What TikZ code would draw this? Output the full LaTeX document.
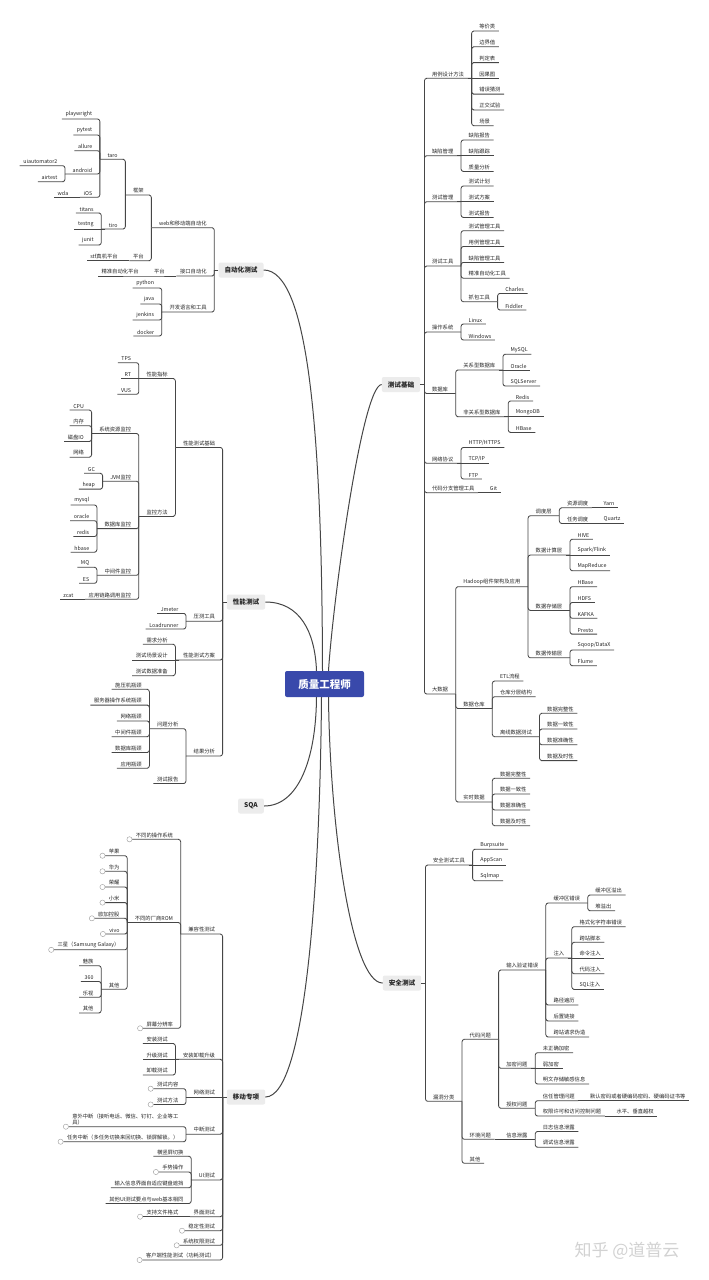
\documentclass[tikz,border=0pt]{standalone}
\usepackage{fontspec}
\setmainfont{Noto Sans CJK SC}
\definecolor{rootblue}{RGB}{57,73,171}
\definecolor{topicgray}{RGB}{236,236,236}
\definecolor{linegray}{RGB}{70,70,70}
\newcommand{\leaffont}{\fontsize{5.3}{6.4}\selectfont}
\newcommand{\topicfont}{\fontsize{6.6}{8}\selectfont\bfseries}
\tikzset{
    root/.style={rectangle, rounded corners=2pt, fill=rootblue, text=white, font=\fontsize{10.5}{12}\selectfont\bfseries, minimum width=79pt, minimum height=26pt},
    topic/.style={rectangle, rounded corners=2pt, fill=topicgray, text=black!85, font=\topicfont, inner xsep=6pt, minimum height=15pt},
    lf/.style={anchor=south east, xshift=-8pt, inner xsep=3.5pt, inner ysep=1.6pt, font=\leaffont, text=black!85},
    rt/.style={anchor=south west, xshift=8pt, inner xsep=3.5pt, inner ysep=1.6pt, font=\leaffont, text=black!85},
    br/.style={draw=linegray, line width=0.8pt, rounded corners=2.5pt},
    main/.style={draw=linegray, line width=1pt},
    mk/.style={draw=gray!80, line width=0.4pt, fill=white}
}

\begin{document}
\begin{tikzpicture}[x=1pt, y=-1pt]
    \useasboundingbox (0,0) rectangle (709,1280);
    \fill[white] (0,0) rectangle (709,1280);

    % Centro e rami principali
    \node[root] (root) at (324.5,684) {质量工程师};
    \node[topic] (auto) at (241,270) {自动化测试};
    \node[topic] (base) at (401,384.5) {测试基础};
    \node[topic] (perf) at (246,602) {性能测试};
    \node[topic] (sqa) at (251,806) {SQA};
    \node[topic] (mob) at (246,1097) {移动专项};
    \node[topic] (sec) at (402,983) {安全测试};

    \draw[main] (auto.east) .. controls (308,270) and (322,430) .. ([xshift=-2pt]root.north);
    \draw[main] (base.west) .. controls (362,386) and (333,600) .. ([xshift=4pt]root.north);
    \draw[main] (perf.east) .. controls (300,602) and (315,632) .. ([xshift=-8pt]root.north);
    \draw[main] (sqa.east) .. controls (298,806) and (316,760) .. ([xshift=-8pt]root.south);
    \draw[main] (mob.east) .. controls (306,1097) and (320,880) .. ([xshift=-3pt]root.south);
    \draw[main] (sec.west) .. controls (352,983) and (330,830) .. ([xshift=4pt]root.south);

    % 自动化测试
    \node[lf] (webm) at (auto.west |- 0,227.7) {web和移动端自动化};
    \node[lf] (api) at (auto.west |- 0,276) {接口自动化};
    \node[lf] (lang) at (auto.west |- 0,312) {开发语言和工具};
    \node[lf] (frame) at (webm.south west |- 0,195) {框架};
    \node[lf] (plat) at (webm.south west |- 0,260.7) {平台};
    \node[lf] (taro) at (frame.south west |- 0,159.3) {taro};
    \node[lf] (tiro) at (frame.south west |- 0,229) {tiro};
    \node[lf] (pw) at (taro.south west |- 0,119) {playwright};
    \node[lf] (pyt) at (taro.south west |- 0,135) {pytest};
    \node[lf] (allure) at (taro.south west |- 0,150.7) {allure};
    \node[lf] (andr) at (taro.south west |- 0,174) {android};
    \node[lf] (ios) at (taro.south west |- 0,197.3) {iOS};
    \node[lf] (uia) at (andr.south west |- 0,165.7) {uiautomator2};
    \node[lf] (airt) at (andr.south west |- 0,181.7) {airtest};
    \node[lf] (wda) at (ios.south west |- 0,197.3) {wda};
    \node[lf] (titans) at (tiro.south west |- 0,213) {titans};
    \node[lf] (testng) at (tiro.south west |- 0,229) {testng};
    \node[lf] (junit) at (tiro.south west |- 0,245) {junit};
    \node[lf] (stf) at (plat.south west |- 0,260.7) {stf真机平台};
    \node[lf] (api2) at (api.south west |- 0,276) {平台};
    \node[lf] (jzpt) at (api2.south west |- 0,276) {精准自动化平台};
    \node[lf] (python) at (lang.south west |- 0,288) {python};
    \node[lf] (java) at (lang.south west |- 0,304) {java};
    \node[lf] (jenkins) at (lang.south west |- 0,320) {jenkins};
    \node[lf] (docker) at (lang.south west |- 0,336) {docker};

    \draw[br] (auto.west) -- ++(-4,0);
    \draw[br] ([xshift=-4pt]auto.west) |- (webm.south east) -- (webm.south west) -- ++(-4,0);
    \draw[br] ([xshift=-4pt]auto.west) |- (api.south east) -- (api.south west);
    \draw[br] ([xshift=-4pt]auto.west) |- (lang.south east) -- (lang.south west) -- ++(-4,0);
    \draw[br] ([xshift=-4pt]webm.south west) |- (frame.south east) -- (frame.south west) -- ++(-4,0);
    \draw[br] ([xshift=-4pt]webm.south west) |- (plat.south east) -- (plat.south west);
    \draw[br] ([xshift=-4pt]frame.south west) |- (taro.south east) -- (taro.south west) -- ++(-4,0);
    \draw[br] ([xshift=-4pt]frame.south west) |- (tiro.south east) -- (tiro.south west) -- ++(-4,0);
    \draw[br] ([xshift=-4pt]taro.south west) |- (pw.south east) -- (pw.south west);
    \draw[br] ([xshift=-4pt]taro.south west) |- (pyt.south east) -- (pyt.south west);
    \draw[br] ([xshift=-4pt]taro.south west) |- (allure.south east) -- (allure.south west);
    \draw[br] ([xshift=-4pt]taro.south west) |- (andr.south east) -- (andr.south west) -- ++(-4,0);
    \draw[br] ([xshift=-4pt]taro.south west) |- (ios.south east) -- (ios.south west);
    \draw[br] ([xshift=-4pt]andr.south west) |- (uia.south east) -- (uia.south west);
    \draw[br] ([xshift=-4pt]andr.south west) |- (airt.south east) -- (airt.south west);
    \draw[br] (ios.south west) -- (wda.south west);
    \draw[br] ([xshift=-4pt]tiro.south west) |- (titans.south east) -- (titans.south west);
    \draw[br] (tiro.south west) -- (testng.south west);
    \draw[br] ([xshift=-4pt]tiro.south west) |- (junit.south east) -- (junit.south west);
    \draw[br] (plat.south west) -- (stf.south west);
    \draw[br] (api.south west) -- (api2.south west) -- (jzpt.south west);
    \draw[br] ([xshift=-4pt]lang.south west) |- (python.south east) -- (python.south west);
    \draw[br] ([xshift=-4pt]lang.south west) |- (java.south east) -- (java.south west);
    \draw[br] ([xshift=-4pt]lang.south west) |- (jenkins.south east) -- (jenkins.south west);
    \draw[br] ([xshift=-4pt]lang.south west) |- (docker.south east) -- (docker.south west);

    % 测试基础
    \node[rt] (case) at (base.east |- 0,78.3) {用例设计方法};
    \node[rt] (bug) at (base.east |- 0,155.7) {缺陷管理};
    \node[rt] (tm) at (base.east |- 0,201.7) {测试管理};
    \node[rt] (tool) at (base.east |- 0,266) {测试工具};
    \node[rt] (os) at (base.east |- 0,332) {操作系统};
    \node[rt] (db) at (base.east |- 0,393.5) {数据库};
    \node[rt] (net) at (base.east |- 0,463.3) {网络协议};
    \node[rt] (vcs) at (base.east |- 0,492.7) {代码分支管理工具};
    \node[rt] (bigd) at (base.east |- 0,694) {大数据};
    \node[rt] (dj) at (case.south east |- 0,31) {等价类};
    \node[rt] (bj) at (case.south east |- 0,46.8) {边界值};
    \node[rt] (pd) at (case.south east |- 0,62.6) {判定表};
    \node[rt] (yg) at (case.south east |- 0,78.3) {因果图};
    \node[rt] (cw) at (case.south east |- 0,94.1) {错误猜测};
    \node[rt] (zj) at (case.south east |- 0,109.9) {正交试验};
    \node[rt] (cj) at (case.south east |- 0,125.7) {场景};
    \node[rt] (bg1) at (bug.south east |- 0,140) {缺陷报告};
    \node[rt] (bg2) at (bug.south east |- 0,155.7) {缺陷跟踪};
    \node[rt] (bg3) at (bug.south east |- 0,171.4) {质量分析};
    \node[rt] (tm1) at (tm.south east |- 0,186) {测试计划};
    \node[rt] (tm2) at (tm.south east |- 0,201.7) {测试方案};
    \node[rt] (tm3) at (tm.south east |- 0,217.4) {测试报告};
    \node[rt] (tl1) at (tool.south east |- 0,230.7) {测试管理工具};
    \node[rt] (tl2) at (tool.south east |- 0,246.5) {用例管理工具};
    \node[rt] (tl3) at (tool.south east |- 0,262.4) {缺陷管理工具};
    \node[rt] (tl4) at (tool.south east |- 0,278.2) {精准自动化工具};
    \node[rt] (cap) at (tool.south east |- 0,301.7) {抓包工具};
    \node[rt] (charles) at (cap.south east |- 0,293.4) {Charles};
    \node[rt] (fiddler) at (cap.south east |- 0,310) {Fiddler};
    \node[rt] (linux) at (os.south east |- 0,324) {Linux};
    \node[rt] (win) at (os.south east |- 0,340) {Windows};
    \node[rt] (rdb) at (db.south east |- 0,370) {关系型数据库};
    \node[rt] (nosql) at (db.south east |- 0,416.7) {非关系型数据库};
    \node[rt] (mysql) at (rdb.south east |- 0,354.3) {MySQL};
    \node[rt] (oracle) at (rdb.south east |- 0,370) {Oracle};
    \node[rt] (sqls) at (rdb.south east |- 0,386) {SQLServer};
    \node[rt] (redis) at (nosql.south east |- 0,401) {Redis};
    \node[rt] (mongo) at (nosql.south east |- 0,416.7) {MongoDB};
    \node[rt] (hbase) at (nosql.south east |- 0,432.4) {HBase};
    \node[rt] (http) at (net.south east |- 0,447.5) {HTTP/HTTPS};
    \node[rt] (tcp) at (net.south east |- 0,463.3) {TCP/IP};
    \node[rt] (ftp) at (net.south east |- 0,479) {FTP};
    \node[rt] (git) at (vcs.south east |- 0,492.7) {Git};

    \draw[br] (base.east) -- ++(4,0);
    \draw[br] ([xshift=4pt]base.east) |- (case.south west) -- (case.south east) -- ++(4,0);
    \draw[br] ([xshift=4pt]base.east) |- (bug.south west) -- (bug.south east) -- ++(4,0);
    \draw[br] ([xshift=4pt]base.east) |- (tm.south west) -- (tm.south east) -- ++(4,0);
    \draw[br] ([xshift=4pt]base.east) |- (tool.south west) -- (tool.south east) -- ++(4,0);
    \draw[br] ([xshift=4pt]base.east) |- (os.south west) -- (os.south east) -- ++(4,0);
    \draw[br] ([xshift=4pt]base.east) |- (db.south west) -- (db.south east) -- ++(4,0);
    \draw[br] ([xshift=4pt]base.east) |- (net.south west) -- (net.south east) -- ++(4,0);
    \draw[br] ([xshift=4pt]base.east) |- (vcs.south west) -- (vcs.south east);
    \draw[br] ([xshift=4pt]base.east) |- (bigd.south west) -- (bigd.south east) -- ++(4,0);
    \draw[br] ([xshift=4pt]case.south east) |- (dj.south west) -- (dj.south east);
    \draw[br] ([xshift=4pt]case.south east) |- (bj.south west) -- (bj.south east);
    \draw[br] ([xshift=4pt]case.south east) |- (pd.south west) -- (pd.south east);
    \draw[br] (case.south east) -- (yg.south east);
    \draw[br] ([xshift=4pt]case.south east) |- (cw.south west) -- (cw.south east);
    \draw[br] ([xshift=4pt]case.south east) |- (zj.south west) -- (zj.south east);
    \draw[br] ([xshift=4pt]case.south east) |- (cj.south west) -- (cj.south east);
    \draw[br] ([xshift=4pt]bug.south east) |- (bg1.south west) -- (bg1.south east);
    \draw[br] (bug.south east) -- (bg2.south east);
    \draw[br] ([xshift=4pt]bug.south east) |- (bg3.south west) -- (bg3.south east);
    \draw[br] ([xshift=4pt]tm.south east) |- (tm1.south west) -- (tm1.south east);
    \draw[br] (tm.south east) -- (tm2.south east);
    \draw[br] ([xshift=4pt]tm.south east) |- (tm3.south west) -- (tm3.south east);
    \draw[br] ([xshift=4pt]tool.south east) |- (tl1.south west) -- (tl1.south east);
    \draw[br] ([xshift=4pt]tool.south east) |- (tl2.south west) -- (tl2.south east);
    \draw[br] ([xshift=4pt]tool.south east) |- (tl3.south west) -- (tl3.south east);
    \draw[br] ([xshift=4pt]tool.south east) |- (tl4.south west) -- (tl4.south east);
    \draw[br] ([xshift=4pt]tool.south east) |- (cap.south west) -- (cap.south east) -- ++(4,0);
    \draw[br] ([xshift=4pt]cap.south east) |- (charles.south west) -- (charles.south east);
    \draw[br] ([xshift=4pt]cap.south east) |- (fiddler.south west) -- (fiddler.south east);
    \draw[br] ([xshift=4pt]os.south east) |- (linux.south west) -- (linux.south east);
    \draw[br] ([xshift=4pt]os.south east) |- (win.south west) -- (win.south east);
    \draw[br] ([xshift=4pt]db.south east) |- (rdb.south west) -- (rdb.south east) -- ++(4,0);
    \draw[br] ([xshift=4pt]db.south east) |- (nosql.south west) -- (nosql.south east) -- ++(4,0);
    \draw[br] ([xshift=4pt]rdb.south east) |- (mysql.south west) -- (mysql.south east);
    \draw[br] (rdb.south east) -- (oracle.south east);
    \draw[br] ([xshift=4pt]rdb.south east) |- (sqls.south west) -- (sqls.south east);
    \draw[br] ([xshift=4pt]nosql.south east) |- (redis.south west) -- (redis.south east);
    \draw[br] (nosql.south east) -- (mongo.south east);
    \draw[br] ([xshift=4pt]nosql.south east) |- (hbase.south west) -- (hbase.south east);
    \draw[br] ([xshift=4pt]net.south east) |- (http.south west) -- (http.south east);
    \draw[br] (net.south east) -- (tcp.south east);
    \draw[br] ([xshift=4pt]net.south east) |- (ftp.south west) -- (ftp.south east);
    \draw[br] (vcs.south east) -- (git.south east);

    % 大数据
    \node[rt] (hadoop) at (bigd.south east |- 0,586.7) {Hadoop组件架构及应用};
    \node[rt] (dw) at (bigd.south east |- 0,708.5) {数据仓库};
    \node[rt] (rtd) at (bigd.south east |- 0,802) {实时数据};
    \node[rt] (sched) at (hadoop.south east |- 0,515.7) {调度层};
    \node[rt] (calc) at (hadoop.south east |- 0,555) {数据计算层};
    \node[rt] (store) at (hadoop.south east |- 0,610.4) {数据存储层};
    \node[rt] (trans) at (hadoop.south east |- 0,657.8) {数据传输层};
    \node[rt] (zy) at (sched.south east |- 0,507.8) {资源调度};
    \node[rt] (rw) at (sched.south east |- 0,523.5) {任务调度};
    \node[rt] (yarn) at (zy.south east |- 0,507.8) {Yarn};
    \node[rt] (quartz) at (rw.south east |- 0,523.5) {Quartz};
    \node[rt] (hive) at (calc.south east |- 0,539.3) {HIVE};
    \node[rt] (spark) at (calc.south east |- 0,555) {Spark/Flink};
    \node[rt] (mr) at (calc.south east |- 0,570.7) {MapReduce};
    \node[rt] (hb) at (store.south east |- 0,586.7) {HBase};
    \node[rt] (hdfs) at (store.south east |- 0,602.5) {HDFS};
    \node[rt] (kafka) at (store.south east |- 0,618.3) {KAFKA};
    \node[rt] (presto) at (store.south east |- 0,634.1) {Presto};
    \node[rt] (sqoop) at (trans.south east |- 0,650) {Sqoop/DataX};
    \node[rt] (flume) at (trans.south east |- 0,665.7) {Flume};
    \node[rt] (etl) at (dw.south east |- 0,681) {ETL流程};
    \node[rt] (cc) at (dw.south east |- 0,696.7) {仓库分层结构};
    \node[rt] (off) at (dw.south east |- 0,736.7) {离线数据测试};
    \node[rt] (of1) at (off.south east |- 0,713.3) {数据完整性};
    \node[rt] (of2) at (off.south east |- 0,729) {数据一致性};
    \node[rt] (of3) at (off.south east |- 0,744.8) {数据准确性};
    \node[rt] (of4) at (off.south east |- 0,760.6) {数据及时性};
    \node[rt] (rd1) at (rtd.south east |- 0,778.3) {数据完整性};
    \node[rt] (rd2) at (rtd.south east |- 0,794) {数据一致性};
    \node[rt] (rd3) at (rtd.south east |- 0,810) {数据准确性};
    \node[rt] (rd4) at (rtd.south east |- 0,825.7) {数据及时性};

    \draw[br] ([xshift=4pt]bigd.south east) |- (hadoop.south west) -- (hadoop.south east) -- ++(4,0);
    \draw[br] ([xshift=4pt]bigd.south east) |- (dw.south west) -- (dw.south east) -- ++(4,0);
    \draw[br] ([xshift=4pt]bigd.south east) |- (rtd.south west) -- (rtd.south east) -- ++(4,0);
    \draw[br] ([xshift=4pt]hadoop.south east) |- (sched.south west) -- (sched.south east) -- ++(4,0);
    \draw[br] ([xshift=4pt]hadoop.south east) |- (calc.south west) -- (calc.south east) -- ++(4,0);
    \draw[br] ([xshift=4pt]hadoop.south east) |- (store.south west) -- (store.south east) -- ++(4,0);
    \draw[br] ([xshift=4pt]hadoop.south east) |- (trans.south west) -- (trans.south east) -- ++(4,0);
    \draw[br] ([xshift=4pt]sched.south east) |- (zy.south west) -- (zy.south east);
    \draw[br] ([xshift=4pt]sched.south east) |- (rw.south west) -- (rw.south east);
    \draw[br] (zy.south east) -- (yarn.south east);
    \draw[br] (rw.south east) -- (quartz.south east);
    \draw[br] ([xshift=4pt]calc.south east) |- (hive.south west) -- (hive.south east);
    \draw[br] (calc.south east) -- (spark.south east);
    \draw[br] ([xshift=4pt]calc.south east) |- (mr.south west) -- (mr.south east);
    \draw[br] ([xshift=4pt]store.south east) |- (hb.south west) -- (hb.south east);
    \draw[br] ([xshift=4pt]store.south east) |- (hdfs.south west) -- (hdfs.south east);
    \draw[br] ([xshift=4pt]store.south east) |- (kafka.south west) -- (kafka.south east);
    \draw[br] ([xshift=4pt]store.south east) |- (presto.south west) -- (presto.south east);
    \draw[br] ([xshift=4pt]trans.south east) |- (sqoop.south west) -- (sqoop.south east);
    \draw[br] ([xshift=4pt]trans.south east) |- (flume.south west) -- (flume.south east);
    \draw[br] ([xshift=4pt]dw.south east) |- (etl.south west) -- (etl.south east);
    \draw[br] ([xshift=4pt]dw.south east) |- (cc.south west) -- (cc.south east);
    \draw[br] ([xshift=4pt]dw.south east) |- (off.south west) -- (off.south east) -- ++(4,0);
    \draw[br] ([xshift=4pt]off.south east) |- (of1.south west) -- (of1.south east);
    \draw[br] ([xshift=4pt]off.south east) |- (of2.south west) -- (of2.south east);
    \draw[br] ([xshift=4pt]off.south east) |- (of3.south west) -- (of3.south east);
    \draw[br] ([xshift=4pt]off.south east) |- (of4.south west) -- (of4.south east);
    \draw[br] ([xshift=4pt]rtd.south east) |- (rd1.south west) -- (rd1.south east);
    \draw[br] ([xshift=4pt]rtd.south east) |- (rd2.south west) -- (rd2.south east);
    \draw[br] ([xshift=4pt]rtd.south east) |- (rd3.south west) -- (rd3.south east);
    \draw[br] ([xshift=4pt]rtd.south east) |- (rd4.south west) -- (rd4.south east);

    % 性能测试
    \node[lf] (pbase) at (perf.west |- 0,447.4) {性能测试基础};
    \node[lf] (ptool) at (perf.west |- 0,621.2) {压测工具};
    \node[lf] (pplan) at (perf.west |- 0,660) {性能测试方案};
    \node[lf] (pres) at (perf.west |- 0,756) {结果分析};
    \node[lf] (metric) at (pbase.south west |- 0,378.5) {性能指标};
    \node[lf] (monitor) at (pbase.south west |- 0,516.4) {监控方法};
    \node[lf] (tps) at (metric.south west |- 0,362.7) {TPS};
    \node[lf] (rtm) at (metric.south west |- 0,378.5) {RT};
    \node[lf] (vus) at (metric.south west |- 0,394.3) {VUS};
    \node[lf] (sysmon) at (monitor.south west |- 0,433.5) {系统资源监控};
    \node[lf] (jvm) at (monitor.south west |- 0,481.2) {JVM监控};
    \node[lf] (dbmon) at (monitor.south west |- 0,528.6) {数据库监控};
    \node[lf] (midw) at (monitor.south west |- 0,575.3) {中间件监控};
    \node[lf] (apm) at (monitor.south west |- 0,599.3) {应用链路调用监控};
    \node[lf] (cpu) at (sysmon.south west |- 0,410) {CPU};
    \node[lf] (mem) at (sysmon.south west |- 0,425.7) {内存};
    \node[lf] (disk) at (sysmon.south west |- 0,441.5) {磁盘IO};
    \node[lf] (nw) at (sysmon.south west |- 0,457.2) {网络};
    \node[lf] (gc) at (jvm.south west |- 0,473.3) {GC};
    \node[lf] (heap) at (jvm.south west |- 0,489.1) {heap};
    \node[lf] (mysqlm) at (dbmon.south west |- 0,505) {mysql};
    \node[lf] (oraclem) at (dbmon.south west |- 0,520.7) {oracle};
    \node[lf] (redism) at (dbmon.south west |- 0,536.5) {redis};
    \node[lf] (hbasem) at (dbmon.south west |- 0,552.2) {hbase};
    \node[lf] (mq) at (midw.south west |- 0,567.3) {MQ};
    \node[lf] (es) at (midw.south west |- 0,583.3) {ES};
    \node[lf] (zcat) at (apm.south west |- 0,599.3) {zcat};
    \node[lf] (jmeter) at (ptool.south west |- 0,613.4) {Jmeter};
    \node[lf] (lr) at (ptool.south west |- 0,629) {Loadrunner};
    \node[lf] (xq) at (pplan.south west |- 0,644.3) {需求分析};
    \node[lf] (cjsj) at (pplan.south west |- 0,660) {测试场景设计};
    \node[lf] (sjzb) at (pplan.south west |- 0,675.7) {测试数据准备};
    \node[lf] (issue) at (pres.south west |- 0,728.7) {问题分析};
    \node[lf] (rpt) at (pres.south west |- 0,783.5) {测试报告};
    \node[lf] (is1) at (issue.south west |- 0,689.3) {施压机瓶颈};
    \node[lf] (is2) at (issue.south west |- 0,705.1) {服务器操作系统瓶颈};
    \node[lf] (is3) at (issue.south west |- 0,720.9) {网络瓶颈};
    \node[lf] (is4) at (issue.south west |- 0,736.7) {中间件瓶颈};
    \node[lf] (is5) at (issue.south west |- 0,752.5) {数据库瓶颈};
    \node[lf] (is6) at (issue.south west |- 0,768.3) {应用瓶颈};

    \draw[br] (perf.west) -- ++(-4,0);
    \draw[br] ([xshift=-4pt]perf.west) |- (pbase.south east) -- (pbase.south west) -- ++(-4,0);
    \draw[br] ([xshift=-4pt]perf.west) |- (ptool.south east) -- (ptool.south west) -- ++(-4,0);
    \draw[br] ([xshift=-4pt]perf.west) |- (pplan.south east) -- (pplan.south west) -- ++(-4,0);
    \draw[br] ([xshift=-4pt]perf.west) |- (pres.south east) -- (pres.south west) -- ++(-4,0);
    \draw[br] ([xshift=-4pt]pbase.south west) |- (metric.south east) -- (metric.south west) -- ++(-4,0);
    \draw[br] ([xshift=-4pt]pbase.south west) |- (monitor.south east) -- (monitor.south west) -- ++(-4,0);
    \draw[br] ([xshift=-4pt]metric.south west) |- (tps.south east) -- (tps.south west);
    \draw[br] (metric.south west) -- (rtm.south west);
    \draw[br] ([xshift=-4pt]metric.south west) |- (vus.south east) -- (vus.south west);
    \draw[br] ([xshift=-4pt]monitor.south west) |- (sysmon.south east) -- (sysmon.south west) -- ++(-4,0);
    \draw[br] ([xshift=-4pt]monitor.south west) |- (jvm.south east) -- (jvm.south west) -- ++(-4,0);
    \draw[br] ([xshift=-4pt]monitor.south west) |- (dbmon.south east) -- (dbmon.south west) -- ++(-4,0);
    \draw[br] ([xshift=-4pt]monitor.south west) |- (midw.south east) -- (midw.south west) -- ++(-4,0);
    \draw[br] ([xshift=-4pt]monitor.south west) |- (apm.south east) -- (apm.south west);
    \draw[br] ([xshift=-4pt]sysmon.south west) |- (cpu.south east) -- (cpu.south west);
    \draw[br] ([xshift=-4pt]sysmon.south west) |- (mem.south east) -- (mem.south west);
    \draw[br] ([xshift=-4pt]sysmon.south west) |- (disk.south east) -- (disk.south west);
    \draw[br] ([xshift=-4pt]sysmon.south west) |- (nw.south east) -- (nw.south west);
    \draw[br] ([xshift=-4pt]jvm.south west) |- (gc.south east) -- (gc.south west);
    \draw[br] ([xshift=-4pt]jvm.south west) |- (heap.south east) -- (heap.south west);
    \draw[br] ([xshift=-4pt]dbmon.south west) |- (mysqlm.south east) -- (mysqlm.south west);
    \draw[br] ([xshift=-4pt]dbmon.south west) |- (oraclem.south east) -- (oraclem.south west);
    \draw[br] ([xshift=-4pt]dbmon.south west) |- (redism.south east) -- (redism.south west);
    \draw[br] ([xshift=-4pt]dbmon.south west) |- (hbasem.south east) -- (hbasem.south west);
    \draw[br] ([xshift=-4pt]midw.south west) |- (mq.south east) -- (mq.south west);
    \draw[br] ([xshift=-4pt]midw.south west) |- (es.south east) -- (es.south west);
    \draw[br] (apm.south west) -- (zcat.south west);
    \draw[br] ([xshift=-4pt]ptool.south west) |- (jmeter.south east) -- (jmeter.south west);
    \draw[br] ([xshift=-4pt]ptool.south west) |- (lr.south east) -- (lr.south west);
    \draw[br] ([xshift=-4pt]pplan.south west) |- (xq.south east) -- (xq.south west);
    \draw[br] (pplan.south west) -- (cjsj.south west);
    \draw[br] ([xshift=-4pt]pplan.south west) |- (sjzb.south east) -- (sjzb.south west);
    \draw[br] ([xshift=-4pt]pres.south west) |- (issue.south east) -- (issue.south west) -- ++(-4,0);
    \draw[br] ([xshift=-4pt]pres.south west) |- (rpt.south east) -- (rpt.south west);
    \draw[br] ([xshift=-4pt]issue.south west) |- (is1.south east) -- (is1.south west);
    \draw[br] ([xshift=-4pt]issue.south west) |- (is2.south east) -- (is2.south west);
    \draw[br] ([xshift=-4pt]issue.south west) |- (is3.south east) -- (is3.south west);
    \draw[br] ([xshift=-4pt]issue.south west) |- (is4.south east) -- (is4.south west);
    \draw[br] ([xshift=-4pt]issue.south west) |- (is5.south east) -- (is5.south west);
    \draw[br] ([xshift=-4pt]issue.south west) |- (is6.south east) -- (is6.south west);

    % 安全测试
    \node[rt] (sectool) at (sec.east |- 0,865) {安全测试工具};
    \node[rt] (vuln) at (sec.east |- 0,1101.3) {漏洞分类};
    \node[rt] (burp) at (sectool.south east |- 0,849.3) {Burpsuite};
    \node[rt] (appscan) at (sectool.south east |- 0,865) {AppScan};
    \node[rt] (sqlmap) at (sectool.south east |- 0,880.7) {Sqlmap};
    \node[rt] (code) at (vuln.south east |- 0,1039.3) {代码问题};
    \node[rt] (env) at (vuln.south east |- 0,1139.3) {环境问题};
    \node[rt] (othr) at (vuln.south east |- 0,1163.3) {其他};
    \node[rt] (input) at (code.south east |- 0,970) {输入验证错误};
    \node[rt] (crypto) at (code.south east |- 0,1068.3) {加密问题};
    \node[rt] (auth) at (code.south east |- 0,1108.3) {授权问题};
    \node[rt] (buf) at (input.south east |- 0,903) {缓冲区错误};
    \node[rt] (inj) at (input.south east |- 0,958) {注入};
    \node[rt] (path) at (input.south east |- 0,1005) {路径遍历};
    \node[rt] (link) at (input.south east |- 0,1021) {后置链接};
    \node[rt] (csrf) at (input.south east |- 0,1037) {跨站请求伪造};
    \node[rt] (bo1) at (buf.south east |- 0,895) {缓冲区溢出};
    \node[rt] (bo2) at (buf.south east |- 0,910.7) {堆溢出};
    \node[rt] (in1) at (inj.south east |- 0,926.7) {格式化字符串错误};
    \node[rt] (in2) at (inj.south east |- 0,942.3) {跨站脚本};
    \node[rt] (in3) at (inj.south east |- 0,958) {命令注入};
    \node[rt] (in4) at (inj.south east |- 0,973.7) {代码注入};
    \node[rt] (in5) at (inj.south east |- 0,989.4) {SQL注入};
    \node[rt] (cr1) at (crypto.south east |- 0,1052.7) {未正确加密};
    \node[rt] (cr2) at (crypto.south east |- 0,1068.3) {弱加密};
    \node[rt] (cr3) at (crypto.south east |- 0,1084) {明文存储敏感信息};
    \node[rt] (trust) at (auth.south east |- 0,1100.7) {信任管理问题};
    \node[rt] (perm) at (auth.south east |- 0,1116) {权限许可和访问控制问题};
    \node[rt] (dft) at (trust.south east |- 0,1100.7) {默认密码或者硬编码密码、硬编码证书等};
    \node[rt] (vert) at (perm.south east |- 0,1116) {水平、垂直越权};
    \node[rt] (leak) at (env.south east |- 0,1139.3) {信息泄露};
    \node[rt] (lk1) at (leak.south east |- 0,1131.5) {日志信息泄露};
    \node[rt] (lk2) at (leak.south east |- 0,1147.2) {调试信息泄露};

    \draw[br] (sec.east) -- ++(4,0);
    \draw[br] ([xshift=4pt]sec.east) |- (sectool.south west) -- (sectool.south east) -- ++(4,0);
    \draw[br] ([xshift=4pt]sec.east) |- (vuln.south west) -- (vuln.south east) -- ++(4,0);
    \draw[br] ([xshift=4pt]sectool.south east) |- (burp.south west) -- (burp.south east);
    \draw[br] (sectool.south east) -- (appscan.south east);
    \draw[br] ([xshift=4pt]sectool.south east) |- (sqlmap.south west) -- (sqlmap.south east);
    \draw[br] ([xshift=4pt]vuln.south east) |- (code.south west) -- (code.south east) -- ++(4,0);
    \draw[br] ([xshift=4pt]vuln.south east) |- (env.south west) -- (env.south east);
    \draw[br] ([xshift=4pt]vuln.south east) |- (othr.south west) -- (othr.south east);
    \draw[br] ([xshift=4pt]code.south east) |- (input.south west) -- (input.south east) -- ++(4,0);
    \draw[br] ([xshift=4pt]code.south east) |- (crypto.south west) -- (crypto.south east) -- ++(4,0);
    \draw[br] ([xshift=4pt]code.south east) |- (auth.south west) -- (auth.south east) -- ++(4,0);
    \draw[br] ([xshift=4pt]input.south east) |- (buf.south west) -- (buf.south east) -- ++(4,0);
    \draw[br] ([xshift=4pt]input.south east) |- (inj.south west) -- (inj.south east) -- ++(4,0);
    \draw[br] ([xshift=4pt]input.south east) |- (path.south west) -- (path.south east);
    \draw[br] ([xshift=4pt]input.south east) |- (link.south west) -- (link.south east);
    \draw[br] ([xshift=4pt]input.south east) |- (csrf.south west) -- (csrf.south east);
    \draw[br] ([xshift=4pt]buf.south east) |- (bo1.south west) -- (bo1.south east);
    \draw[br] ([xshift=4pt]buf.south east) |- (bo2.south west) -- (bo2.south east);
    \draw[br] ([xshift=4pt]inj.south east) |- (in1.south west) -- (in1.south east);
    \draw[br] ([xshift=4pt]inj.south east) |- (in2.south west) -- (in2.south east);
    \draw[br] (inj.south east) -- (in3.south east);
    \draw[br] ([xshift=4pt]inj.south east) |- (in4.south west) -- (in4.south east);
    \draw[br] ([xshift=4pt]inj.south east) |- (in5.south west) -- (in5.south east);
    \draw[br] ([xshift=4pt]crypto.south east) |- (cr1.south west) -- (cr1.south east);
    \draw[br] (crypto.south east) -- (cr2.south east);
    \draw[br] ([xshift=4pt]crypto.south east) |- (cr3.south west) -- (cr3.south east);
    \draw[br] ([xshift=4pt]auth.south east) |- (trust.south west) -- (trust.south east);
    \draw[br] ([xshift=4pt]auth.south east) |- (perm.south west) -- (perm.south east);
    \draw[br] (trust.south east) -- (dft.south east);
    \draw[br] (perm.south east) -- (vert.south east);
    \draw[br] (env.south east) -- (leak.south east) -- ++(4,0);
    \draw[br] ([xshift=4pt]leak.south east) |- (lk1.south west) -- (lk1.south east);
    \draw[br] ([xshift=4pt]leak.south east) |- (lk2.south west) -- (lk2.south east);

    % 移动专项
    \node[lf] (compat) at (mob.west |- 0,934) {兼容性测试};
    \node[lf] (install) at (mob.west |- 0,1059.3) {安装卸载升级};
    \node[lf] (nettest) at (mob.west |- 0,1097) {网络测试};
    \node[lf] (intr) at (mob.west |- 0,1134.2) {中断测试};
    \node[lf] (ui) at (mob.west |- 0,1179.9) {UI测试};
    \node[lf] (iface) at (mob.west |- 0,1216.7) {界面测试};
    \node[lf] (stab) at (mob.west |- 0,1230.7) {稳定性测试};
    \node[lf] (sysperm) at (mob.west |- 0,1245.3) {系统权限测试};
    \node[lf] (client) at (mob.west |- 0,1260) {客户端性能测试（功耗测试）};
    \node[lf] (diffos) at (compat.south west |- 0,839.3) {不同的操作系统};
    \node[lf] (rom) at (compat.south west |- 0,922.5) {不同的厂商ROM};
    \node[lf] (screen) at (compat.south west |- 0,1028.3) {屏幕分辨率};
    \node[lf] (apple) at (rom.south west |- 0,855.7) {苹果};
    \node[lf] (hw) at (rom.south west |- 0,871.3) {华为};
    \node[lf] (hon) at (rom.south west |- 0,887) {荣耀};
    \node[lf] (mi) at (rom.south west |- 0,902.6) {小米};
    \node[lf] (oppo) at (rom.south west |- 0,918.3) {欧加控股};
    \node[lf] (vivo) at (rom.south west |- 0,934) {vivo};
    \node[lf] (sam) at (rom.south west |- 0,949.8) {三星（Samsung Galaxy）};
    \node[lf] (romo) at (rom.south west |- 0,989.3) {其他};
    \node[lf] (mz) at (romo.south west |- 0,965.7) {魅族};
    \node[lf] (s360) at (romo.south west |- 0,981.5) {360};
    \node[lf] (lesh) at (romo.south west |- 0,997.3) {乐视};
    \node[lf] (qt) at (romo.south west |- 0,1013) {其他};
    \node[lf] (az) at (install.south west |- 0,1043.5) {安装测试};
    \node[lf] (sj) at (install.south west |- 0,1059.3) {升级测试};
    \node[lf] (xz) at (install.south west |- 0,1075) {卸载测试};
    \node[lf] (nc) at (nettest.south west |- 0,1088.7) {测试内容};
    \node[lf] (nf) at (nettest.south west |- 0,1104.5) {测试方法};
    \node[lf, align=left] (yw) at (intr.south west |- 0,1126.7) {意外中断（接听电话、微信、钉钉、企业等工\\具）};
    \node[lf] (rw2) at (intr.south west |- 0,1141.7) {任务中断（多任务切换来回切换、锁屏解锁。）};
    \node[lf] (hs) at (ui.south west |- 0,1156.3) {横竖屏切换};
    \node[lf] (ss) at (ui.south west |- 0,1172) {手势操作};
    \node[lf] (sr) at (ui.south west |- 0,1187.7) {输入信息界面自适应键盘遮挡};
    \node[lf] (qtui) at (ui.south west |- 0,1203.5) {其他UI测试要点与web基本相同};
    \node[lf] (fmt) at (iface.south west |- 0,1216.7) {支持文件格式};

    \draw[br] (mob.west) -- ++(-4,0);
    \draw[br] ([xshift=-4pt]mob.west) |- (compat.south east) -- (compat.south west) -- ++(-4,0);
    \draw[br] ([xshift=-4pt]mob.west) |- (install.south east) -- (install.south west) -- ++(-4,0);
    \draw[br] (mob.west) -- (nettest.south west) -- ++(-4,0);
    \draw[br] ([xshift=-4pt]mob.west) |- (intr.south east) -- (intr.south west) -- ++(-4,0);
    \draw[br] ([xshift=-4pt]mob.west) |- (ui.south east) -- (ui.south west) -- ++(-4,0);
    \draw[br] ([xshift=-4pt]mob.west) |- (iface.south east) -- (iface.south west);
    \draw[br] ([xshift=-4pt]mob.west) |- (stab.south east) -- (stab.south west);
    \draw[br] ([xshift=-4pt]mob.west) |- (sysperm.south east) -- (sysperm.south west);
    \draw[br] ([xshift=-4pt]mob.west) |- (client.south east) -- (client.south west);
    \draw[br] ([xshift=-4pt]compat.south west) |- (diffos.south east) -- (diffos.south west);
    \draw[br] ([xshift=-4pt]compat.south west) |- (rom.south east) -- (rom.south west) -- ++(-4,0);
    \draw[br] ([xshift=-4pt]compat.south west) |- (screen.south east) -- (screen.south west);
    \draw[br] ([xshift=-4pt]rom.south west) |- (apple.south east) -- (apple.south west);
    \draw[br] ([xshift=-4pt]rom.south west) |- (hw.south east) -- (hw.south west);
    \draw[br] ([xshift=-4pt]rom.south west) |- (hon.south east) -- (hon.south west);
    \draw[br] ([xshift=-4pt]rom.south west) |- (mi.south east) -- (mi.south west);
    \draw[br] ([xshift=-4pt]rom.south west) |- (oppo.south east) -- (oppo.south west);
    \draw[br] ([xshift=-4pt]rom.south west) |- (vivo.south east) -- (vivo.south west);
    \draw[br] ([xshift=-4pt]rom.south west) |- (sam.south east) -- (sam.south west);
    \draw[br] ([xshift=-4pt]rom.south west) |- (romo.south east) -- (romo.south west) -- ++(-4,0);
    \draw[br] ([xshift=-4pt]romo.south west) |- (mz.south east) -- (mz.south west);
    \draw[br] ([xshift=-4pt]romo.south west) |- (s360.south east) -- (s360.south west);
    \draw[br] ([xshift=-4pt]romo.south west) |- (lesh.south east) -- (lesh.south west);
    \draw[br] ([xshift=-4pt]romo.south west) |- (qt.south east) -- (qt.south west);
    \draw[br] ([xshift=-4pt]install.south west) |- (az.south east) -- (az.south west);
    \draw[br] (install.south west) -- (sj.south west);
    \draw[br] ([xshift=-4pt]install.south west) |- (xz.south east) -- (xz.south west);
    \draw[br] ([xshift=-4pt]nettest.south west) |- (nc.south east) -- (nc.south west);
    \draw[br] ([xshift=-4pt]nettest.south west) |- (nf.south east) -- (nf.south west);
    \draw[br] ([xshift=-4pt]intr.south west) |- (yw.south east) -- (yw.south west);
    \draw[br] ([xshift=-4pt]intr.south west) |- (rw2.south east) -- (rw2.south west);
    \draw[br] ([xshift=-4pt]ui.south west) |- (hs.south east) -- (hs.south west);
    \draw[br] ([xshift=-4pt]ui.south west) |- (ss.south east) -- (ss.south west);
    \draw[br] ([xshift=-4pt]ui.south west) |- (sr.south east) -- (sr.south west);
    \draw[br] ([xshift=-4pt]ui.south west) |- (qtui.south east) -- (qtui.south west);
    \draw[br] (iface.south west) -- (fmt.south west);

    % Marcatori
    \draw[mk] ([xshift=-2.7pt]diffos.south west) circle (2.6pt);
    \draw[mk] ([xshift=-2.7pt]screen.south west) circle (2.6pt);
    \draw[mk] ([xshift=-2.7pt]apple.south west) circle (2.6pt);
    \draw[mk] ([xshift=-2.7pt]hw.south west) circle (2.6pt);
    \draw[mk] ([xshift=-2.7pt]hon.south west) circle (2.6pt);
    \draw[mk] ([xshift=-2.7pt]mi.south west) circle (2.6pt);
    \draw[mk] ([xshift=-2.7pt]oppo.south west) circle (2.6pt);
    \draw[mk] ([xshift=-2.7pt]vivo.south west) circle (2.6pt);
    \draw[mk] ([xshift=-2.7pt]sam.south west) circle (2.6pt);
    \draw[mk] ([xshift=-2.7pt]nc.south west) circle (2.6pt);
    \draw[mk] ([xshift=-2.7pt]nf.south west) circle (2.6pt);
    \draw[mk] ([xshift=-2.7pt]yw.south west) circle (2.6pt);
    \draw[mk] ([xshift=-2.7pt]rw2.south west) circle (2.6pt);
    \draw[mk] ([xshift=-2.7pt]ss.south west) circle (2.6pt);
    \draw[mk] ([xshift=-2.7pt]fmt.south west) circle (2.6pt);
    \draw[mk] ([xshift=-2.7pt]stab.south west) circle (2.6pt);
    \draw[mk] ([xshift=-2.7pt]sysperm.south west) circle (2.6pt);
    \draw[mk] ([xshift=-2.7pt]client.south west) circle (2.6pt);

    \node[font=\fontsize{17}{20}\selectfont, text=gray!35] (wm) at (627,1251) {知乎 @道普云};

\end{tikzpicture}
\end{document}
